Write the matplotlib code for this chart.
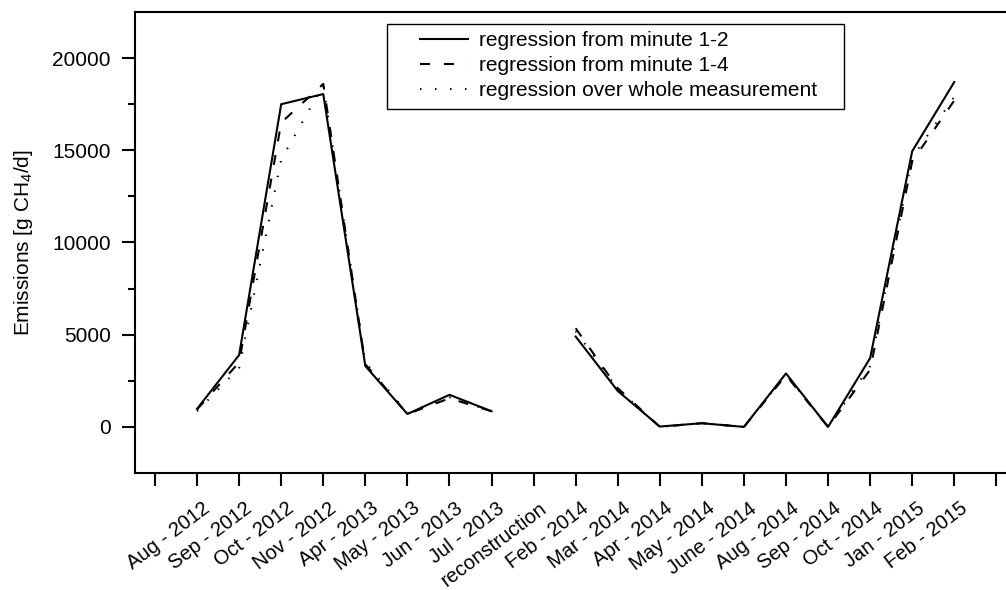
import matplotlib
matplotlib.use("Agg")
import matplotlib.pyplot as plt
import matplotlib.transforms as mtransforms
from matplotlib.patches import Rectangle
import numpy as np

plt.rcParams['font.family'] = ['Liberation Sans', 'DejaVu Sans']
plt.rcParams['mathtext.fontset'] = 'custom'
plt.rcParams['mathtext.rm'] = 'Liberation Sans'
plt.rcParams['mathtext.it'] = 'Liberation Sans:italic'

categories = ["Aug - 2012", "Sep - 2012", "Oct - 2012", "Nov - 2012", "Apr - 2013",
              "May - 2013", "Jun - 2013", "Jul - 2013", "reconstruction", "Feb - 2014",
              "Mar - 2014", "Apr - 2014", "May - 2014", "June - 2014", "Aug - 2014",
              "Sep - 2014", "Oct - 2014", "Jan - 2015", "Feb - 2015"]

# emissions in g CH4/d; NaN marks the reconstruction period without measurements
reg_min_1_2 = [980, 3900, 17500, 18050, 3300, 700, 1740, 850, np.nan, 4900,
               1950, 20, 200, 0, 2900, 0, 3730, 14950, 18700]
reg_min_1_4 = [950, 3500, 16500, 18600, 3400, 700, 1550, 850, np.nan, 5350,
               2100, 0, 200, 0, 2800, 0, 3100, 14400, 17700]
reg_whole = [850, 3200, 14500, 18550, 3500, 750, 1600, 850, np.nan, 5200,
             2050, 0, 200, 0, 2850, 0, 3300, 14600, 17900]

series_labels = ["regression from minute 1-2",
                 "regression from minute 1-4",
                 "regression over whole measurement"]

FS = 15
W, H = 1006, 590
fig = plt.figure(figsize=(W / 100, H / 100), dpi=100)
ax_l, ax_r, ax_t, ax_b = 135, 1006, 12, 473
ax = fig.add_axes([ax_l / W, 1 - ax_b / H, (ax_r - ax_l) / W, (ax_b - ax_t) / H])

x = np.arange(1, len(categories) + 1)
lw = 1.5
h1, = ax.plot(x, reg_min_1_2, color='black', lw=lw, linestyle='-')
h2, = ax.plot(x, reg_min_1_4, color='black', lw=lw, linestyle=(0, (4.8, 6.7)))
h3, = ax.plot(x, reg_whole, color='black', lw=1.5, linestyle=(0, (0.7, 6.5)))

ax.set_xlim(-0.4755, 20.23)
ax.set_ylim(-2500, 22500)

ax.set_xticks(np.arange(0, 21))
ax.set_xticklabels([""] + categories + [""])
ax.set_yticks([0, 5000, 10000, 15000, 20000])
ax.set_yticks(np.arange(2500, 22500, 5000), minor=True)

for s in ['left', 'bottom', 'top']:
    ax.spines[s].set_linewidth(1.5)
ax.spines['right'].set_visible(False)

ax.tick_params(axis='both', which='major', direction='out', length=9.5, width=1.5,
               labelsize=FS, color='black')
ax.tick_params(axis='y', which='major', pad=8)
ax.tick_params(axis='y', which='minor', direction='out', length=4.7, width=1.5)
ax.tick_params(axis='x', which='major', pad=9, labelsize=14.5)

offset = mtransforms.ScaledTranslation(5 / 100, 0, fig.dpi_scale_trans)
for lab in ax.get_xticklabels():
    lab.set_rotation(37)
    lab.set_ha('right')
    lab.set_va('top')
    lab.set_rotation_mode('anchor')
    lab.set_transform(lab.get_transform() + offset)

ax.set_ylabel("Emissions [g CH$_4$/d]", fontsize=FS, labelpad=12)

# legend frame drawn as a plain rectangle, legend entries placed inside it
def px_to_ax(px, py):
    return (px - ax_l) / (ax_r - ax_l), (ax_b - py) / (ax_b - ax_t)

x0, y0 = px_to_ax(387, 109)
x1, y1 = px_to_ax(844, 24)
ax.add_patch(Rectangle((x0, y0), x1 - x0, y1 - y0, transform=ax.transAxes,
                       facecolor='white', edgecolor='black', lw=1.0, zorder=5))
lx, ly = px_to_ax(420, 31)
leg = ax.legend([h1, h2, h3], series_labels, loc='upper left',
                bbox_to_anchor=(lx, ly), frameon=False, fontsize=FS,
                borderpad=0, borderaxespad=0, handlelength=2.3,
                handletextpad=0.55, labelspacing=0.3)
leg.set_zorder(6)

fig.savefig("out.png", dpi=100)
